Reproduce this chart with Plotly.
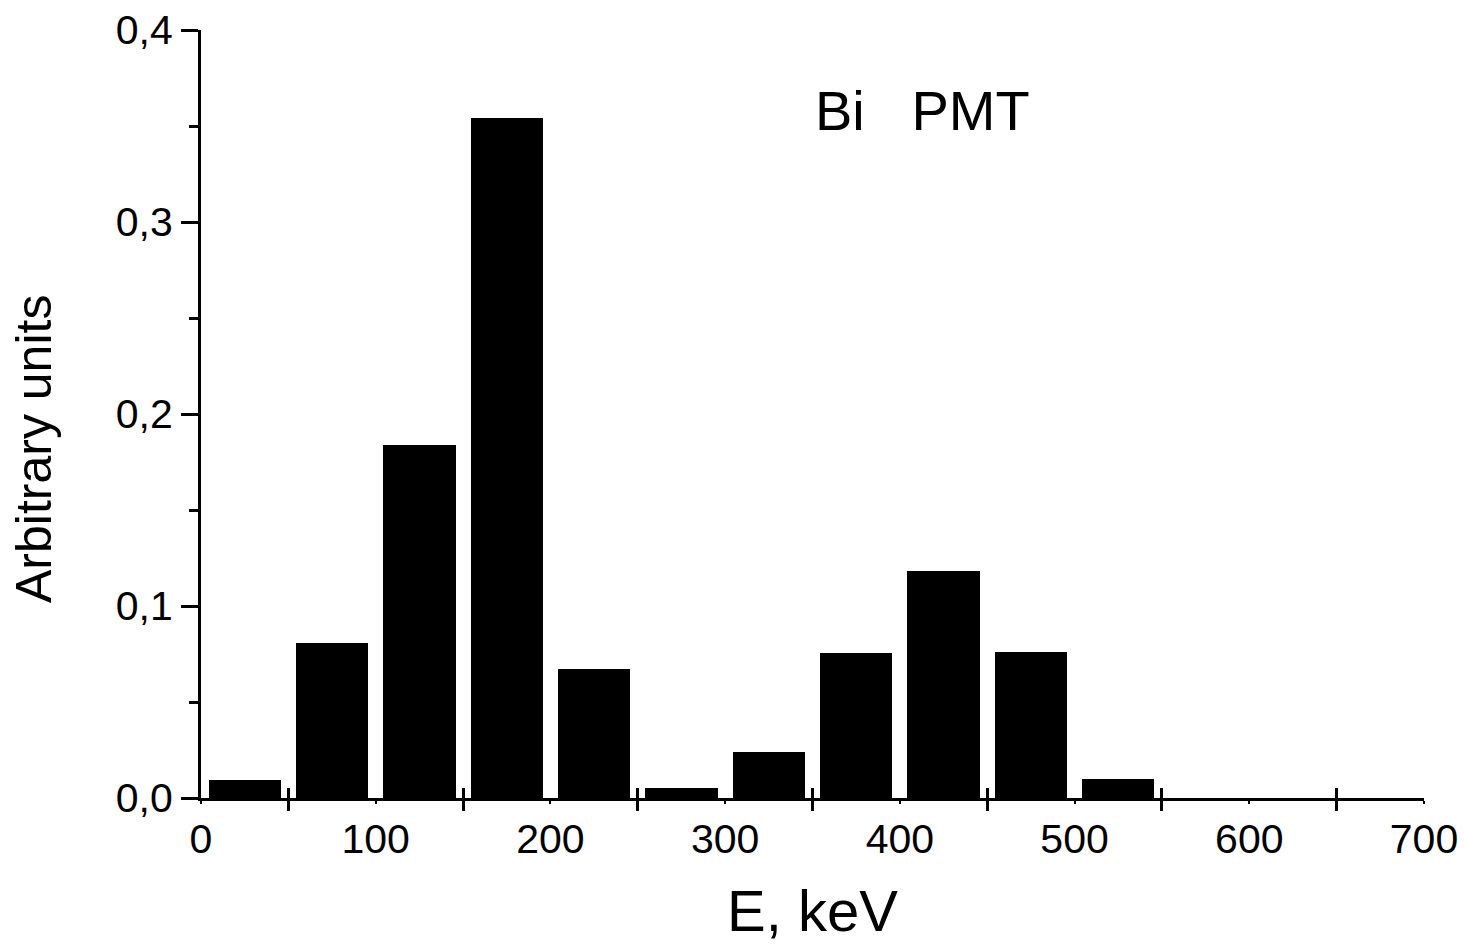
import plotly.graph_objects as go

# Energy bin centres (keV) and normalised counts per bin
energy_kev = [25, 75, 125, 175, 225, 275, 325, 375, 425, 475, 525, 575, 625, 675]
counts = [0.0094, 0.0805, 0.1836, 0.3543, 0.0671, 0.0052, 0.0241,
          0.0753, 0.1182, 0.0758, 0.0097, 0.0, 0.0, 0.0]

x_major_ticks = [0, 100, 200, 300, 400, 500, 600, 700]
x_minor_ticks = [50, 150, 250, 350, 450, 550, 650]
y_ticks = [0.0, 0.1, 0.2, 0.3, 0.4]

label_text = "Bi\u00a0\u00a0\u00a0PMT"
label_pos = (350, 0.358)

FONT = "Liberation Sans, Arial, sans-serif"

fig = go.Figure()
fig.add_trace(go.Bar(
    x=energy_kev, y=counts, width=41.4,
    marker=dict(color="black", line=dict(width=0)),
    showlegend=False, hoverinfo="skip",
))
# invisible companion trace so the overlay axis (crossing minor ticks) is drawn
fig.add_trace(go.Scatter(
    x=energy_kev, y=counts, xaxis="x2", mode="markers",
    marker=dict(opacity=0), showlegend=False, hoverinfo="skip",
))

fig.update_layout(
    width=1466, height=945,
    margin=dict(l=201, r=42, t=30, b=147),
    plot_bgcolor="white", paper_bgcolor="white",
    separators=",.",
    font=dict(family=FONT, color="black", size=41),
    xaxis=dict(
        range=[0, 700], showgrid=False, zeroline=False, automargin=False,
        showline=True, linecolor="black", linewidth=3,
        tickmode="array", tickvals=x_major_ticks,
        ticks="outside", ticklen=3, tickwidth=2, tickcolor="black",
        minor=dict(tickmode="array", tickvals=x_minor_ticks,
                   ticks="outside", ticklen=10, tickwidth=3, tickcolor="black"),
        tickfont=dict(size=41),
        title=dict(text="E, keV", font=dict(size=58), standoff=30),
    ),
    xaxis2=dict(
        range=[0, 700], overlaying="x", side="bottom", anchor="y",
        showgrid=False, zeroline=False, showline=False, automargin=False,
        tickmode="array", tickvals=x_minor_ticks,
        ticks="inside", ticklen=10, tickwidth=3, tickcolor="black",
        showticklabels=False,
    ),
    yaxis=dict(
        range=[0, 0.4], showgrid=False, zeroline=False, automargin=False,
        showline=True, linecolor="black", linewidth=3,
        tickmode="array", tickvals=y_ticks, tickformat=".1f",
        ticks="outside", ticklen=17, tickwidth=3, tickcolor="black",
        minor=dict(dtick=0.05, ticks="outside", ticklen=9, tickwidth=3,
                   tickcolor="black"),
        tickfont=dict(size=41),
    ),
    bargap=0,
)

# vertical axis title, placed beside the tick labels
fig.add_annotation(
    x=-0.137, y=0.455, xref="paper", yref="paper",
    text="Arbitrary units", textangle=-90, showarrow=False,
    xanchor="center", yanchor="middle",
    font=dict(size=50, family=FONT, color="black"),
)

fig.add_annotation(
    x=label_pos[0], y=label_pos[1], xref="x", yref="y",
    text=label_text, showarrow=False, xanchor="left", yanchor="middle",
    font=dict(size=56, family=FONT, color="black"),
)

fig.write_html("out.html")
